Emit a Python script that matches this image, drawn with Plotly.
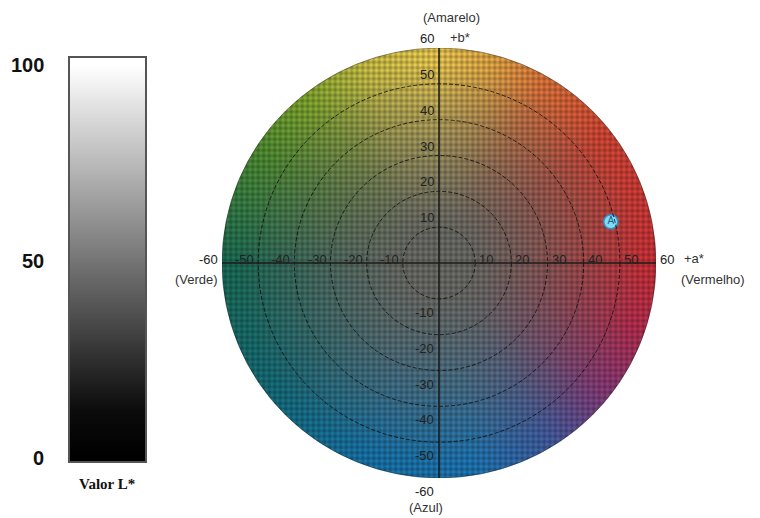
import base64, struct, zlib
import numpy as np
import plotly.graph_objects as go

# ---------------- data ----------------
tick_values = [-60, -50, -40, -30, -20, -10, 10, 20, 30, 40, 50, 60]
ring_radii = [10, 20, 30, 40, 50]
sample_names = ["A"]
sample_a = [47.5]
sample_b = [11.5]
l_ticks = [0, 50, 100]

# hue anchors of the a*/b* disk (angle in degrees, rgb)
hue_angles = [0, 38, 60, 76, 92, 110, 128, 148, 180, 215, 250, 280, 302, 322, 342]
hue_colors = [(182, 46, 52), (190, 64, 48), (198, 104, 54), (204, 152, 64), (210, 182, 74),
              (182, 172, 64), (118, 150, 44), (72, 128, 46), (26, 98, 78), (20, 98, 108),
              (22, 104, 152), (28, 106, 162), (62, 84, 144), (122, 54, 108), (164, 42, 72)]
center_gray = (96, 97, 92)

W, H = 760, 518
def px(x):
    return x / W
def py(y):
    return 1 - y / H

# ---------------- background disk image ----------------
IW, IH = 434, 430
xs = (np.arange(IW) + 0.5) / IW * 120 - 60
ys = 60 - (np.arange(IH) + 0.5) / IH * 120
A, B = np.meshgrid(xs, ys)
R = np.hypot(A, B)
ang = np.degrees(np.arctan2(B, A)) % 360
angs = np.array(hue_angles + [360.0])
cols = np.array(hue_colors + [hue_colors[0]], dtype=float)
hue = np.stack([np.interp(ang, angs, cols[:, c]) for c in range(3)], axis=-1)
t = np.clip((R - 8) / 48, 0, 1) ** 1.3
gray = np.array(center_gray, dtype=float)
img = gray * (1 - t[..., None]) + hue * t[..., None]
ix, iy = np.meshgrid(np.arange(IW), np.arange(IH))
P = 5.5
tex = 0.98 + 0.1 * np.cos(2 * np.pi * ix / P) + 0.1 * np.cos(2 * np.pi * iy / P)
img = np.clip(img * tex[..., None], 0, 255)
pxr = IW / 120.0
alpha = np.clip((60 - R) * pxr + 0.5, 0, 1) * 255
rgba = np.concatenate([img, alpha[..., None]], axis=-1).astype(np.uint8)

def to_png(arr):
    h, w, _ = arr.shape
    raw = b"".join(b"\x00" + arr[i].tobytes() for i in range(h))
    def chunk(tag, data):
        c = struct.pack(">I", len(data)) + tag + data
        return c + struct.pack(">I", zlib.crc32(tag + data) & 0xffffffff)
    return (b"\x89PNG\r\n\x1a\n" + chunk(b"IHDR", struct.pack(">IIBBBBB", w, h, 8, 6, 0, 0, 0))
            + chunk(b"IDAT", zlib.compress(raw, 9)) + chunk(b"IEND", b""))

src = "data:image/png;base64," + base64.b64encode(to_png(rgba)).decode()

# ---------------- figure ----------------
fig = go.Figure()

# L* bar
lv = np.linspace(-1.02, 102.0, 206)
fig.add_trace(go.Heatmap(z=[[v] for v in lv], y=lv, x=[0], xaxis="x2", yaxis="y2",
                         colorscale=[[0, "#000000"], [0.12, "#0b0b0b"], [1, "#ffffff"]],
                         zmin=0, zmax=100, showscale=False, hoverinfo="skip"))

# sample point
fig.add_trace(go.Scatter(x=sample_a, y=sample_b, mode="markers+text", text=sample_names,
                         textposition="middle center",
                         textfont=dict(family="Liberation Sans", size=10, color="#1d5c8c"),
                         marker=dict(symbol="circle", size=14, color="#80dcf5",
                                     line=dict(color="#2f93c8", width=1.5)),
                         showlegend=False, hoverinfo="skip"))

shapes = []
for r in ring_radii:
    shapes.append(dict(type="circle", xref="x", yref="y", x0=-r, x1=r, y0=-r, y1=r,
                       line=dict(color="rgba(10,10,10,0.8)", width=1, dash="4px,2px")))
shapes.append(dict(type="circle", xref="x", yref="y", x0=-60, x1=60, y0=-60, y1=60,
                   line=dict(color="rgba(0,0,0,0.35)", width=1)))
shapes.append(dict(type="line", xref="x", yref="y", x0=-60, x1=60, y0=0, y1=0,
                   line=dict(color="#1a1a1a", width=1.5)))
shapes.append(dict(type="line", xref="x", yref="y", x0=0, x1=0, y0=-60, y1=60,
                   line=dict(color="#1a1a1a", width=1.5)))
shapes.append(dict(type="rect", xref="x2 domain", yref="y2 domain", x0=0, x1=1, y0=0, y1=1,
                   line=dict(color="#555555", width=2)))

ann = []
tf = dict(family="Liberation Sans", size=13, color="#222222")
for v in tick_values:
    ann.append(dict(x=v, y=0, xref="x", yref="y", text=str(v), showarrow=False,
                    xanchor="right" if v < 0 else "left", yanchor="middle",
                    xshift=-2 if v < 0 else 2, yshift=4, font=tf))
    ann.append(dict(x=0, y=v, xref="x", yref="y", text=str(v), showarrow=False,
                    xanchor="right", yanchor="bottom" if v > 0 else "top",
                    xshift=-3, yshift=0 if v > 0 else -4, font=tf))

lf = dict(family="Liberation Sans", size=13, color="#333333")
ann += [
    dict(x=px(448), y=py(38), xref="paper", yref="paper", text="+b*", showarrow=False,
         xanchor="left", yanchor="middle", font=lf),
    dict(x=px(451), y=py(17), xref="paper", yref="paper", text="(Amarelo)", showarrow=False,
         xanchor="center", yanchor="middle", font=lf),
    dict(x=px(682), y=py(258), xref="paper", yref="paper", text="+a*", showarrow=False,
         xanchor="left", yanchor="middle", font=lf),
    dict(x=px(679), y=py(279), xref="paper", yref="paper", text="(Vermelho)", showarrow=False,
         xanchor="left", yanchor="middle", font=lf),
    dict(x=px(220), y=py(279), xref="paper", yref="paper", text="(Verde)", showarrow=False,
         xanchor="right", yanchor="middle", font=lf),
    dict(x=px(426), y=py(507), xref="paper", yref="paper", text="(Azul)", showarrow=False,
         xanchor="center", yanchor="middle", font=lf),
    dict(x=px(107), y=py(484), xref="paper", yref="paper", text="<b>Valor L*</b>", showarrow=False,
         xanchor="center", yanchor="middle",
         font=dict(family="Liberation Serif", size=15, color="#111111")),
]
for v in l_ticks:
    ann.append(dict(x=px(46), y=v, xref="paper", yref="y2", text="<b>%d</b>" % v, showarrow=False,
                    xanchor="right", yanchor="middle",
                    font=dict(family="Liberation Sans", size=20, color="#111111")))

hide = dict(visible=False, showgrid=False, zeroline=False, fixedrange=True)
fig.update_layout(
    width=W, height=H, margin=dict(l=0, r=0, t=0, b=0),
    paper_bgcolor="white", plot_bgcolor="rgba(0,0,0,0)",
    xaxis=dict(domain=[px(222), px(656)], range=[-60, 60], **hide),
    yaxis=dict(domain=[py(478), py(48)], range=[-60, 60], **hide),
    xaxis2=dict(domain=[px(69), px(146)], range=[-0.5, 0.5], anchor="y2", **hide),
    yaxis2=dict(domain=[py(462), py(57)], range=[-1.02, 102.0], anchor="x2", **hide),
    images=[dict(source=src, xref="x", yref="y", x=-60, y=60, sizex=120, sizey=120,
                 sizing="stretch", xanchor="left", yanchor="top", layer="below")],
    shapes=shapes, annotations=ann, showlegend=False,
)
fig.write_html("out.html", config={"displayModeBar": False},
               post_script="document.body.style.margin='0px';document.body.style.overflow='hidden';")
